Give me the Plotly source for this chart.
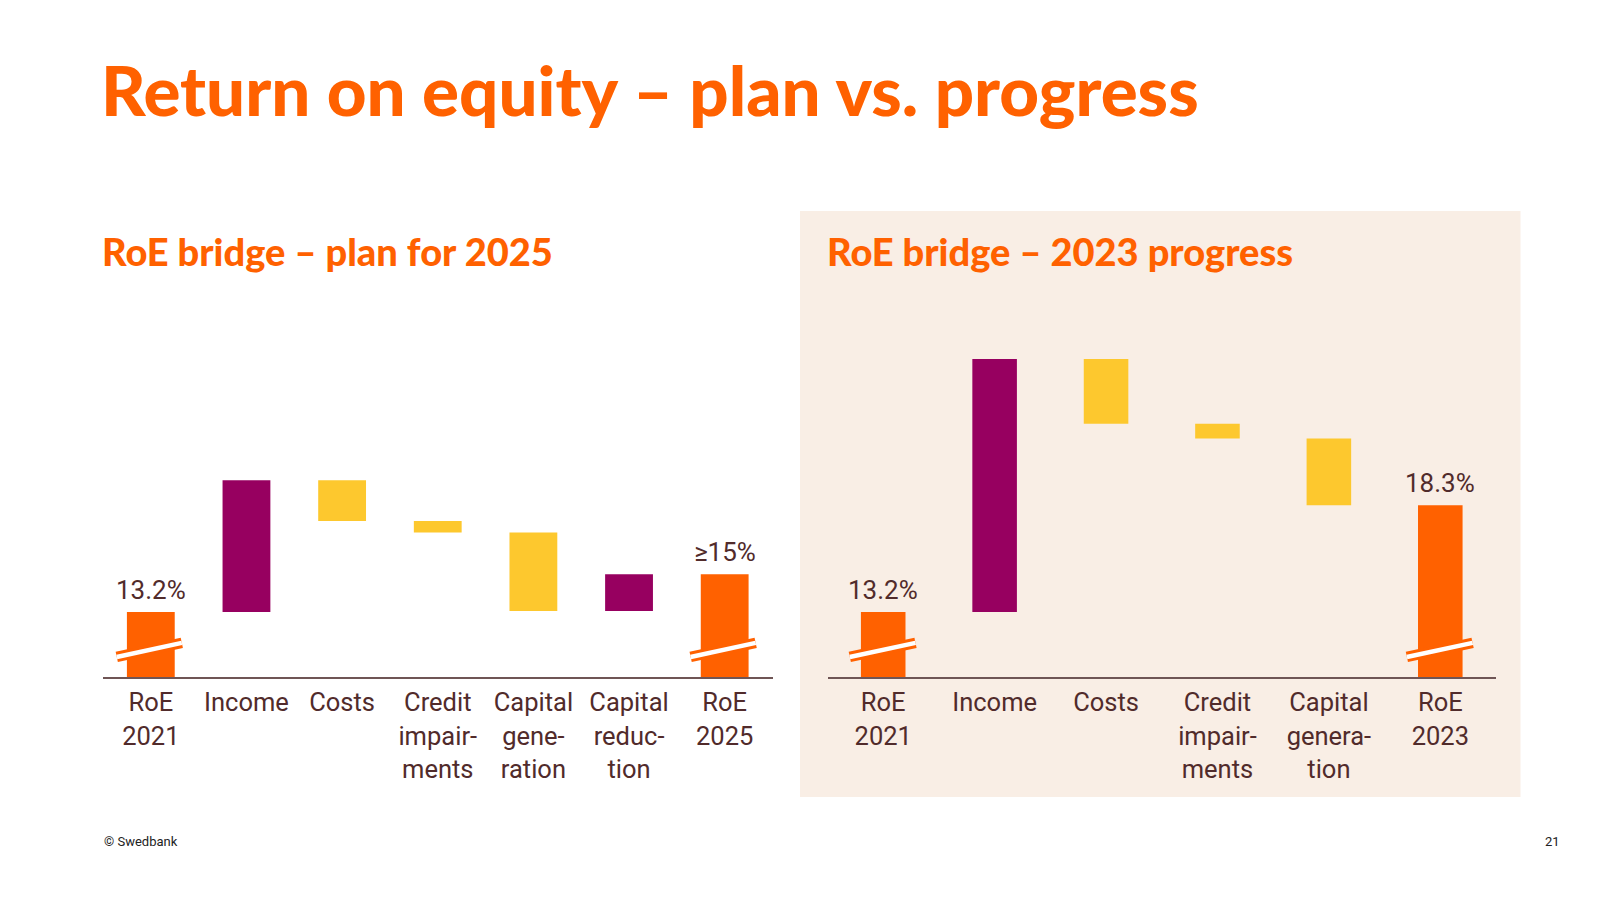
import plotly.graph_objects as go

# ---------------- data ----------------
plan_categories = ["RoE<br>2021", "Income", "Costs", "Credit<br>impair-<br>ments",
                   "Capital<br>gene-<br>ration", "Capital<br>reduc-<br>tion", "RoE<br>2025"]
plan_values = [13.2, 6.3, -1.95, -0.55, -3.75, 1.75, 15.0]
plan_kinds = ["total", "delta", "delta", "delta", "delta", "delta", "total"]
plan_labels = ["13.2%", "", "", "", "", "", "≥15%"]

progress_categories = ["RoE<br>2021", "Income", "Costs", "Credit<br>impair-<br>ments",
                       "Capital<br>genera-<br>tion", "RoE<br>2023"]
progress_values = [13.2, 12.1, -3.1, -0.7, -3.2, 18.3]
progress_kinds = ["total", "delta", "delta", "delta", "delta", "total"]
progress_labels = ["13.2%", "", "", "", "", "18.3%"]

# ---------------- style ----------------
ORANGE = "#FF6100"
PURPLE = "#970060"
YELLOW = "#FDC82E"
BROWN = "#512B2B"
PANEL = "#F9EEE5"
AXIS_LINE = "#6F5555"
W, H = 1600, 900
Y_RANGE = [10.09, 26.21]


def bridge(values, kinds):
    bases, heights, colors = [], [], []
    level = 0.0
    for v, k in zip(values, kinds):
        if k == "total":
            bases.append(0.0)
            heights.append(v)
            colors.append(ORANGE)
            level = v
        else:
            bases.append(level if v >= 0 else level + v)
            heights.append(abs(v))
            colors.append(PURPLE if v > 0 else YELLOW)
            level += v
    return bases, heights, colors


def px_x(p):
    return p / W


def px_y(p):
    return 1 - p / H


fig = go.Figure()

panels = [
    dict(cats=plan_categories, vals=plan_values, kinds=plan_kinds, labels=plan_labels,
         xa="x", ya="y", dom=[px_x(103), px_x(772.5)], width=0.5, brk=(-0.356, 0.324)),
    dict(cats=progress_categories, vals=progress_values, kinds=progress_kinds, labels=progress_labels,
         xa="x2", ya="y2", dom=[px_x(827.5), px_x(1496)], width=0.40, brk=(-0.30, 0.29)),
]

shapes = [
    dict(type="rect", xref="paper", yref="paper", x0=px_x(800), x1=px_x(1520.5),
         y0=px_y(797), y1=px_y(211), fillcolor=PANEL, line=dict(width=0), layer="below"),
]
annotations = []

for i, p in enumerate(panels):
    xs = list(range(len(p["cats"])))
    bases, heights, colors = bridge(p["vals"], p["kinds"])
    fig.add_trace(go.Bar(
        x=xs, y=heights, base=bases, width=p["width"],
        marker=dict(color=colors, line=dict(width=0)),
        xaxis=p["xa"], yaxis=p["ya"], hoverinfo="skip", showlegend=False,
    ))
    sfx = "" if i == 0 else "2"
    fig.update_layout(**{
        "xaxis" + sfx: dict(domain=p["dom"], range=[-0.5, len(xs) - 0.5],
                            tickvals=xs, ticktext=p["cats"], showgrid=False, zeroline=False,
                            showline=True, linecolor=AXIS_LINE, linewidth=1.5, ticks="",
                            tickfont=dict(family="Roboto", size=25.5, color=BROWN),
                            anchor="y" + sfx, fixedrange=True, ticklabelstandoff=2),
        "yaxis" + sfx: dict(domain=[px_y(677), px_y(340)], range=Y_RANGE, visible=False,
                            anchor="x" + sfx, fixedrange=True),
    })
    # axis-break marks on total bars
    for j, k in enumerate(p["kinds"]):
        if k == "total":
            for lw, col in ((10.5, ORANGE), (4.5, "white")):
                shapes.append(dict(type="line", xref=p["xa"], yref=p["ya"],
                                   x0=j + p["brk"][0], x1=j + p["brk"][1], y0=11.05, y1=11.72,
                                   line=dict(color=col, width=lw), layer="above"))
        if p["labels"][j]:
            annotations.append(dict(x=j, y=p["vals"][j], xref=p["xa"], yref=p["ya"],
                                    text=p["labels"][j], showarrow=False, yanchor="bottom",
                                    yshift=5, font=dict(family="Roboto", size=26, color=BROWN)))

# titles and footer
annotations += [
    dict(text="Return on equity – plan vs. progress", x=px_x(99), y=px_y(90), xref="paper", yref="paper",
         xanchor="left", yanchor="middle", showarrow=False,
         font=dict(family="Lato", size=69, color=ORANGE, weight=900)),
    dict(text="RoE bridge – plan for 2025", x=px_x(100), y=px_y(251), xref="paper", yref="paper",
         xanchor="left", yanchor="middle", showarrow=False,
         font=dict(family="Lato", size=38, color=ORANGE, weight=900)),
    dict(text="RoE bridge – 2023 progress", x=px_x(825), y=px_y(251), xref="paper", yref="paper",
         xanchor="left", yanchor="middle", showarrow=False,
         font=dict(family="Lato", size=38, color=ORANGE, weight=900)),
    dict(text="© Swedbank", x=px_x(102), y=px_y(841), xref="paper", yref="paper",
         xanchor="left", yanchor="middle", showarrow=False,
         font=dict(family="Roboto", size=13, color="#222222")),
    dict(text="21", x=px_x(1562), y=px_y(841), xref="paper", yref="paper",
         xanchor="right", yanchor="middle", showarrow=False,
         font=dict(family="Roboto", size=13, color="#222222")),
]

fig.update_layout(
    width=W, height=H, margin=dict(l=0, r=0, t=0, b=0),
    paper_bgcolor="white", plot_bgcolor="rgba(0,0,0,0)",
    shapes=shapes, annotations=annotations, barmode="overlay", showlegend=False,
)

fig.write_html("out.html", config={"displayModeBar": False},
               post_script="document.body.style.margin='0';document.body.style.padding='0';")
